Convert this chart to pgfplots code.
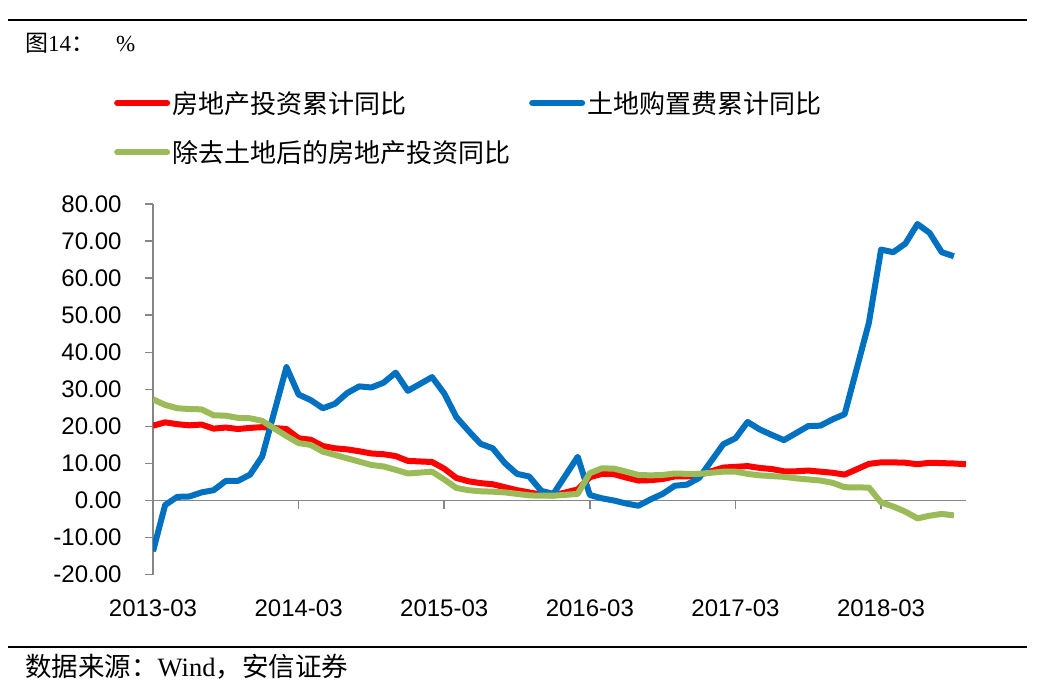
\documentclass[border=0pt]{standalone}
\usepackage{fontspec}
\setmainfont{Liberation Serif}
\newfontfamily\cjk{Noto Sans CJK SC}
\newfontfamily\arial{Liberation Sans}
\usepackage{pgfplots}
\pgfplotsset{compat=1.18}
\definecolor{cred}{RGB}{255,0,0}
\definecolor{cblue}{RGB}{0,112,192}
\definecolor{cgreen}{RGB}{155,187,89}
\definecolor{caxis}{RGB}{134,134,134}
\begin{document}
\begin{tikzpicture}
\path[use as bounding box] (0,0) rectangle (1047bp,688bp);
\draw[line width=1.2bp] (8bp,668bp) -- (1027bp,668bp);
\draw[line width=1.2bp] (8bp,41bp) -- (1027bp,41bp);
\node[anchor=west, inner sep=0] at (25bp,645bp) {\fontsize{23bp}{26bp}\selectfont{\cjk 图}14{\cjk ：}\hspace{22bp}\%};
\node[anchor=west, inner sep=0] at (25bp,21bp) {\fontsize{26.5bp}{30bp}\selectfont{\cjk 数据来源：}Wind{\cjk ，安信证券}};
\begin{axis}[
  at={(153bp,113.3bp)}, anchor=south west,
  scale only axis, width=813bp, height=370.7bp,
  xmin=0, xmax=67, ymin=-20, ymax=80,
  axis x line*=middle, axis y line*=left,
  axis line style={caxis, line width=1.5bp},
  tick style={caxis, line width=1.5bp},
  major tick length=8bp,
  tick align=outside,
  hide obscured x ticks=false,
  xtick={0,12,24,36,48,60},
  xticklabels={2013-03,2014-03,2015-03,2016-03,2017-03,2018-03},
  ytick={-20,-10,...,80},
  /pgf/number format/assume math mode=true,
  yticklabel style={/pgf/number format/fixed, /pgf/number format/fixed zerofill, /pgf/number format/precision=2, xshift=-20bp},
  ticklabel style={font=\arial\fontsize{24bp}{28bp}\selectfont},
  xticklabel style={yshift=-88bp},
  legend columns=2,
  legend cell align=left,
  legend style={draw=none, fill=none, at={(-0.048,1.310)}, anchor=north west,
    font=\cjk\fontsize{26bp}{30bp}\selectfont,
    /tikz/every even column/.append style={column sep=17bp},
    row sep=22bp, inner sep=0pt},
  legend image code/.code={\draw[#1, line width=6bp, line cap=round] (0bp,0bp) -- (50bp,0bp);},
  every axis plot/.append style={line width=6bp, line join=round, mark=none},
]
\addplot[cred] coordinates {
(0,20.2)(1,21.1)(2,20.6)(3,20.3)(4,20.5)(5,19.4)(6,19.7)(7,19.3)(8,19.6)(9,19.8)
(11,19.3)(12,16.8)(13,16.4)(14,14.7)(15,14.1)(16,13.8)(17,13.3)(18,12.7)(19,12.5)(20,12.0)(21,10.7)
(23,10.4)(24,8.6)(25,6.1)(26,5.2)(27,4.7)(28,4.4)(29,3.6)(30,2.8)(31,2.2)(32,1.6)(33,1.4)
(35,3.0)(36,6.3)(37,7.2)(38,7.1)(39,6.2)(40,5.4)(41,5.5)(42,5.8)(43,6.5)(44,6.5)(45,6.9)
(47,8.9)(48,9.1)(49,9.3)(50,8.8)(51,8.5)(52,7.9)(53,7.9)(54,8.1)(55,7.8)(56,7.5)(57,7.0)
(59,9.9)(60,10.3)(61,10.3)(62,10.2)(63,9.8)(64,10.2)(65,10.1)(66,10.0)(67,9.8)
};
\addlegendentry{房地产投资累计同比}
\addplot[cblue] coordinates {
(0,-13.7)(1,-1.2)(2,1.0)(3,1.1)(4,2.2)(5,2.8)(6,5.3)(7,5.3)(8,7.0)(9,11.9)
(11,36.0)(12,28.6)(13,27.1)(14,24.9)(15,26.1)(16,29.0)(17,30.8)(18,30.5)(19,31.8)(20,34.5)(21,29.6)
(23,33.3)(24,28.9)(25,22.5)(26,18.8)(27,15.3)(28,14.1)(29,10.1)(30,7.2)(31,6.5)(32,2.6)(33,1.8)
(35,11.8)(36,1.5)(37,0.6)(38,0.0)(39,-0.8)(40,-1.4)(41,0.3)(42,1.8)(43,4.0)(44,4.3)(45,6.1)
(47,15.2)(48,16.8)(49,21.2)(50,19.2)(51,17.7)(52,16.3)(53,18.2)(54,20.1)(55,20.2)(56,21.9)(57,23.3)
(59,48.0)(60,67.7)(61,67.0)(62,69.3)(63,74.6)(64,72.2)(65,67.0)(66,65.9)
};
\addlegendentry{土地购置费累计同比}
\addplot[cgreen] coordinates {
(0,27.3)(1,25.8)(2,24.9)(3,24.7)(4,24.6)(5,23.0)(6,22.9)(7,22.3)(8,22.2)(9,21.5)
(11,17.4)(12,15.5)(13,15.0)(14,13.2)(15,12.3)(16,11.4)(17,10.5)(18,9.6)(19,9.2)(20,8.3)(21,7.3)
(23,7.8)(24,5.7)(25,3.4)(26,2.8)(27,2.5)(28,2.4)(29,2.2)(30,1.8)(31,1.4)(32,1.3)(33,1.3)
(35,1.8)(36,7.4)(37,8.7)(38,8.6)(39,7.8)(40,6.9)(41,6.8)(42,6.9)(43,7.3)(44,7.2)(45,7.2)
(47,7.8)(48,7.8)(49,7.2)(50,6.8)(51,6.6)(52,6.4)(53,6.0)(54,5.7)(55,5.4)(56,4.8)(57,3.6)
(59,3.5)(60,-0.5)(61,-1.6)(62,-3.0)(63,-4.8)(64,-4.1)(65,-3.6)(66,-4.0)
};
\addlegendentry{除去土地后的房地产投资同比}
\end{axis}
\end{tikzpicture}
\end{document}
